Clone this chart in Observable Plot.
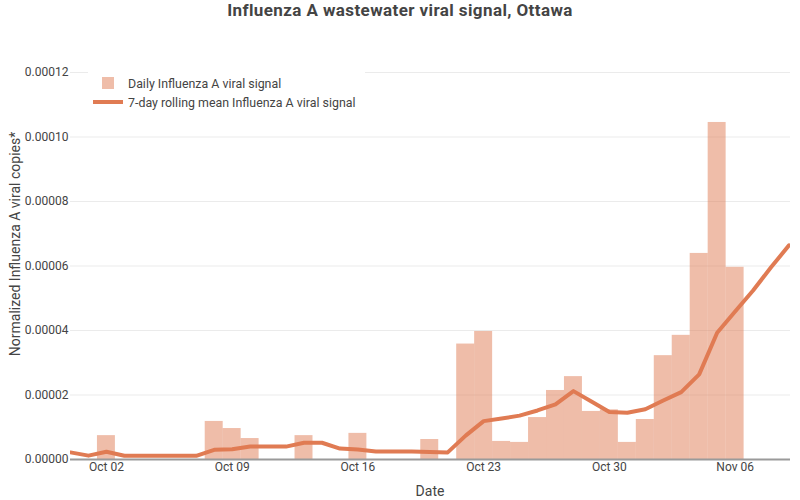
<!DOCTYPE html>
<html>
<head>
<meta charset="utf-8">
<script src="https://cdn.jsdelivr.net/npm/d3@7"></script>
<script src="https://cdn.jsdelivr.net/npm/@observablehq/plot@0.6"></script>
<style>
  html, body { margin: 0; padding: 0; background: #fff; }
  #wrap { position: relative; width: 800px; height: 500px; font-family: Roboto, sans-serif; color: #444; overflow: hidden; }
  #title { position: absolute; left: 0; top: 0; width: 800px; text-align: center; font-weight: bold; font-size: 17px; line-height: 20px; letter-spacing: 0.4px; color: #444; }
  #chart { position: absolute; left: 0; top: 30px; }
  #ytitle { position: absolute; left: 15px; top: 244px; transform: translate(-50%, -50%) rotate(-90deg); font-size: 14px; white-space: nowrap; color: #444; }
  #xtitle { position: absolute; left: 430px; top: 491px; transform: translate(-50%, -50%); font-size: 14px; color: #444; }
  #legend { position: absolute; left: 88px; top: 68px; width: 277px; height: 48px; background: #fff; font-size: 12.4px; color: #444; }
  .li { position: absolute; left: 40px; white-space: nowrap; transform: translateY(-50%); }
  .sw-bar { position: absolute; left: 14px; top: 9px; width: 12px; height: 12px; }
  .sw-line { position: absolute; left: 5px; top: 32px; width: 30px; height: 4px; }
</style>
</head>
<body>
<div id="wrap">
  <div id="title">Influenza A wastewater viral signal, Ottawa</div>
  <div id="chart"></div>
  <div id="ytitle">Normalized Influenza A viral copies*</div>
  <div id="xtitle">Date</div>
  <div id="legend">
    <div class="sw-bar" id="swb"></div>
    <div class="li" style="top:15px">Daily Influenza A viral signal</div>
    <div class="sw-line" id="swl"></div>
    <div class="li" style="top:34px">7-day rolling mean Influenza A viral signal</div>
  </div>
</div>
<script>
const barDates = ["2023-10-02","2023-10-08","2023-10-09","2023-10-10","2023-10-13","2023-10-16","2023-10-20",
  "2023-10-22","2023-10-23","2023-10-24","2023-10-25","2023-10-26","2023-10-27","2023-10-28","2023-10-29",
  "2023-10-30","2023-10-31","2023-11-01","2023-11-02","2023-11-03","2023-11-04","2023-11-05","2023-11-06"];
const barValues = [7.4e-6, 1.18e-5, 9.6e-6, 6.5e-6, 7.4e-6, 8.1e-6, 6.2e-6,
  3.58e-5, 3.97e-5, 5.6e-6, 5.3e-6, 1.30e-5, 2.14e-5, 2.57e-5, 1.49e-5,
  1.54e-5, 5.3e-6, 1.24e-5, 3.22e-5, 3.85e-5, 6.39e-5, 1.045e-4, 5.96e-5];

const meanDates = ["2023-09-30","2023-10-01","2023-10-02","2023-10-03","2023-10-04","2023-10-05","2023-10-06",
  "2023-10-07","2023-10-08","2023-10-09","2023-10-10","2023-10-11","2023-10-12","2023-10-13","2023-10-14",
  "2023-10-15","2023-10-16","2023-10-17","2023-10-18","2023-10-19","2023-10-20","2023-10-21","2023-10-22",
  "2023-10-23","2023-10-24","2023-10-25","2023-10-26","2023-10-27","2023-10-28","2023-10-29","2023-10-30",
  "2023-10-31","2023-11-01","2023-11-02","2023-11-03","2023-11-04","2023-11-05","2023-11-06","2023-11-07",
  "2023-11-08","2023-11-09"];
const meanValues = [2.2e-6, 1.2e-6, 2.4e-6, 1.15e-6, 1.15e-6, 1.15e-6, 1.15e-6,
  1.15e-6, 3.0e-6, 3.2e-6, 4.0e-6, 4.0e-6, 4.0e-6, 5.2e-6, 5.2e-6,
  3.4e-6, 3.1e-6, 2.5e-6, 2.5e-6, 2.45e-6, 2.3e-6, 2.2e-6, 7.4e-6,
  1.19e-5, 1.27e-5, 1.36e-5, 1.52e-5, 1.71e-5, 2.12e-5, 1.80e-5, 1.47e-5,
  1.45e-5, 1.56e-5, 1.83e-5, 2.09e-5, 2.64e-5, 3.93e-5, 4.59e-5, 5.24e-5,
  5.96e-5, 6.64e-5];

const yTicks = [0, 0.00002, 0.00004, 0.00006, 0.00008, 0.0001, 0.00012];
const xTicks = ["2023-10-02","2023-10-09","2023-10-16","2023-10-23","2023-10-30","2023-11-06"];
const xDomain = ["2023-09-30T00:00Z", "2023-11-09T02:00Z"];

const COLOR = "#e07b53";
const HALF_DAY = 12 * 3600 * 1000;

const bars = barDates.map((d, i) => ({date: new Date(d + "T00:00Z"), value: barValues[i]}));
const means = meanDates.map((d, i) => ({date: new Date(d + "T00:00Z"), value: meanValues[i]}));

const plot = Plot.plot({
  width: 800,
  height: 470,
  marginLeft: 70,
  marginRight: 10,
  marginTop: 42,
  marginBottom: 41,
  style: {fontFamily: "Roboto, sans-serif", fontSize: "12px", color: "#444", background: "transparent"},
  x: {type: "utc", domain: xDomain.map(d => new Date(d))},
  y: {domain: [0, 0.00012]},
  marks: [
    Plot.gridY(yTicks, {stroke: "#ebebeb", strokeOpacity: 1, strokeWidth: 1}),
    Plot.axisY(yTicks, {tickSize: 0, tickPadding: 2, tickFormat: d3.format(".5f"), label: null, fill: "#444", fontSize: 12}),
    Plot.axisX(xTicks.map(d => new Date(d + "T00:00Z")), {tickSize: 0, tickPadding: 3, tickFormat: d3.utcFormat("%b %d"), label: null, fill: "#444", fontSize: 12}),
    Plot.rectY(bars, {
      x1: d => new Date(+d.date - HALF_DAY),
      x2: d => new Date(+d.date + HALF_DAY),
      y: "value",
      fill: COLOR, fillOpacity: 0.5, inset: 0
    }),
    Plot.ruleY([0], {stroke: "#9a9a9a", strokeWidth: 2}),
    Plot.lineY(means, {x: "date", y: "value", stroke: COLOR, strokeWidth: 4, strokeLinejoin: "round", clip: true})
  ]
});
document.getElementById("chart").appendChild(plot);
document.getElementById("swb").style.background = COLOR;
document.getElementById("swb").style.opacity = 0.5;
document.getElementById("swl").style.background = COLOR;
</script>
</body>
</html>
